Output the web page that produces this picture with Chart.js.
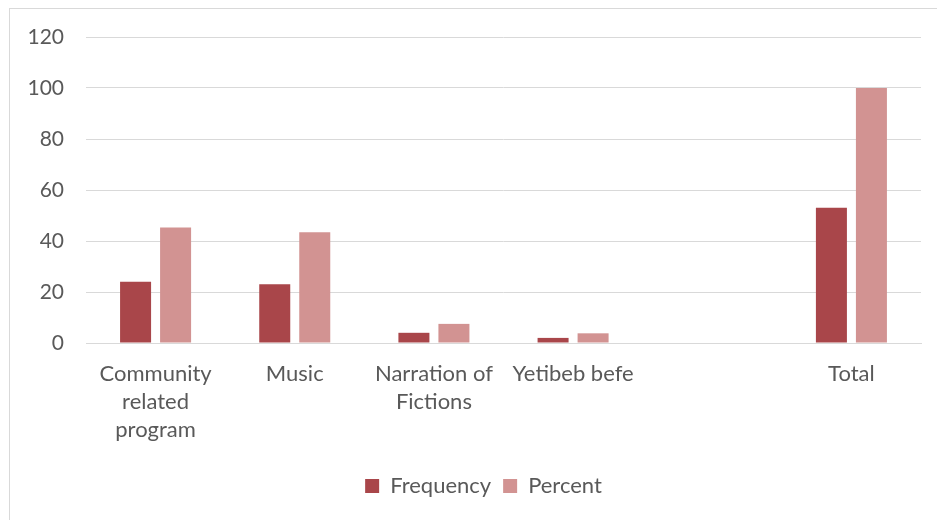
<!DOCTYPE html>
<html>
<head>
<meta charset="utf-8">
<script src="https://cdn.jsdelivr.net/npm/chart.js@4"></script>
<style>
  html, body { margin: 0; padding: 0; background: #fff; }
  #wrap { position: relative; width: 937px; height: 520px; overflow: hidden; }
  #frame { position: absolute; left: 9px; top: 8px; width: 960px; height: 560px; border: 1px solid #d9d9d9; }
  #myChart { position: absolute; left: 0; top: 0; }
</style>
</head>
<body>
<div id="wrap">
  <div id="frame"></div>
  <canvas id="myChart" width="937" height="520"></canvas>
</div>
<script>
// categories and series
const categories = [['Community', 'related', 'program'], 'Music', ['Narration of', 'Fictions'], 'Yetibeb befe', '', 'Total'];
const frequency = [24, 23, 4, 2, null, 53];
const percent = [45.3, 43.4, 7.5, 3.8, null, 100];
const yTicks = [0, 20, 40, 60, 80, 100, 120];

const family = 'Lato, "Liberation Sans", sans-serif';

// nudge the legend to the right so it sits under the plot like the original
const legendShift = {
  id: 'legendShift',
  afterLayout(chart) {
    if (chart.legend) {
      chart.legend.left += 23;
      chart.legend.right += 23;
    }
  }
};

const ctx = document.getElementById('myChart').getContext('2d');
new Chart(ctx, {
  type: 'bar',
  data: {
    labels: categories,
    datasets: [{
      label: 'Frequency',
      data: frequency,
      backgroundColor: '#a9464a',
      categoryPercentage: 0.575,
      barPercentage: 0.775
    }, {
      label: 'Percent',
      data: percent,
      backgroundColor: '#d29392',
      categoryPercentage: 0.575,
      barPercentage: 0.775
    }]
  },
  options: {
    responsive: false,
    animation: false,
    layout: { padding: { top: 37, right: 16, bottom: 13, left: 0 } },
    plugins: {
      tooltip: { enabled: false },
      legend: {
        position: 'bottom',
        labels: {
          color: '#595959',
          font: { family: family, size: 22 },
          boxWidth: 14,
          boxHeight: 14,
          padding: 12
        }
      }
    },
    scales: {
      x: {
        grid: { display: false, drawTicks: false },
        border: { color: '#d9d9d9' },
        ticks: { color: '#595959', font: { family: family, size: 22, lineHeight: 28 / 22 }, padding: 17, maxRotation: 0, autoSkip: false },
        afterFit: (s) => { s.height = 120; }
      },
      y: {
        min: 0,
        max: 120,
        afterBuildTicks: (s) => { s.ticks = yTicks.map(v => ({ value: v })); },
        grid: { color: '#d9d9d9', drawTicks: false },
        border: { display: false },
        ticks: { color: '#595959', font: { family: family, size: 21 }, padding: 22 },
        afterFit: (s) => { s.width = 86; }
      }
    }
  },
  plugins: [legendShift]
});
</script>
</body>
</html>
